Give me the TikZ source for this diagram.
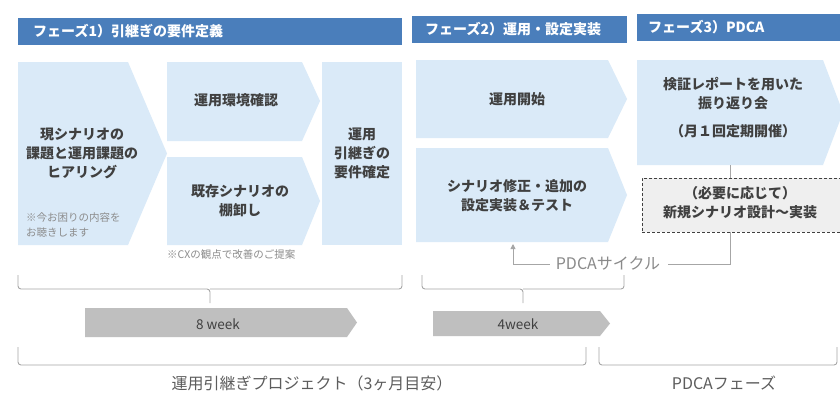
\documentclass[tikz,border=0pt]{standalone}
\usepackage{fontspec}
\setmainfont{Noto Sans CJK JP}
\usetikzlibrary{arrows.meta}
\definecolor{hdr}{HTML}{4A7EBB}
\definecolor{chev}{HTML}{DAEAF8}
\definecolor{txt}{HTML}{404040}
\definecolor{brk}{HTML}{A6A6A6}
\definecolor{garrow}{HTML}{BFBFBF}
\definecolor{note}{HTML}{8C8C8C}
\definecolor{cyc}{HTML}{8A8A8A}
\definecolor{dbg}{HTML}{EFEFEF}
\begin{document}
\begin{tikzpicture}[x=1pt,y=-1pt,
  hdrbar/.style={fill=hdr},
  hdrtext/.style={text=white,font=\fontsize{14}{16}\selectfont\bfseries,anchor=west,inner sep=0pt},
  chevfill/.style={fill=chev},
  boxtext/.style={text=txt,font=\fontsize{14}{19}\selectfont\bfseries,align=center,inner sep=0pt},
  notetext/.style={text=note,font=\fontsize{10.5}{15}\selectfont,align=left,inner sep=0pt,anchor=west},
  bracket/.style={draw=brk,line width=0.9pt,rounded corners=3pt},
  graybar/.style={fill=garrow},
  weektext/.style={text=txt,font=\fontsize{13.5}{15}\selectfont,inner sep=0pt},
  bottomtext/.style={text=txt!85,font=\fontsize{16}{18}\selectfont,inner sep=0pt},
  cycline/.style={draw=brk,line width=0.9pt},
  dbox/.style={draw=txt,fill=dbg,dashed,dash pattern=on 3pt off 2pt,line width=0.9pt}
]
\useasboundingbox (0,0) rectangle (840,392);
\fill[white] (0,0) rectangle (840,392);

% headers
\fill[hdrbar] (18,18) rectangle (402,45);
\fill[hdrbar] (412,16) rectangle (627,43);
\fill[hdrbar] (637,14) rectangle (845,41);
\node[hdrtext] (h1) at (33,31.5) {フェーズ1）引継ぎの要件定義};
\node[hdrtext] (h2) at (425,29.5) {フェーズ2）運用・設定実装};
\node[hdrtext] (h3) at (648,27.5) {フェーズ3）PDCA};

% phase 1 shapes
\fill[chevfill] (18,62) -- (128,62) -- (167,153.5) -- (128,245) -- (18,245) -- cycle;
\fill[chevfill] (167,62) -- (302,62) -- (320,101) -- (302,141) -- (167,141) -- cycle;
\fill[chevfill] (167,157) -- (302,157) -- (320,201) -- (302,245) -- (167,245) -- cycle;
\fill[chevfill] (322,62) rectangle (402,245);

\node[boxtext] (c1) at (82,153) {現シナリオの\\課題と運用課題の\\ヒアリング};
\node[notetext] (n1) at (26,224.5) {※今お困りの内容を\\お聴きします};
\node[boxtext] (c2) at (236,100) {運用環境確認};
\node[boxtext] (c3) at (240,201) {既存シナリオの\\棚卸し};
\node[boxtext] (c4) at (362,153) {運用\\引継ぎの\\要件確定};
\node[notetext] (n2) at (167,255) {※CXの観点で改善のご提案};

% phase 2 shapes
\fill[chevfill] (416,60) -- (608,60) -- (627,99) -- (608,138) -- (416,138) -- cycle;
\fill[chevfill] (416,148) -- (608,148) -- (627,195) -- (608,242) -- (416,242) -- cycle;
\node[boxtext] (c5) at (517,99) {運用開始};
\node[boxtext] (c6) at (517,196) {シナリオ修正・追加の\\設定実装＆テスト};

% phase 3 shapes
\fill[chevfill] (637,60) -- (823,60) -- (843,112.5) -- (823,165) -- (637,165) -- cycle;
\node[boxtext] (c7) at (733,94) {検証レポートを用いた\\振り返り会};
\node[boxtext] (c7b) at (733,131) {（月１回定期開催）};
\coordinate (c7bot) at (730,165);
\node[dbox,minimum width=208pt,minimum height=54pt,anchor=north west,inner sep=0pt] (db) at (642,178) {};
\node[boxtext] (dbt) at (740,203) {（必要に応じて）\\新規シナリオ設計～実装};

% PDCA cycle
\node[text=cyc,font=\fontsize{16}{18}\selectfont,inner sep=0pt] (cyc) at (608,263) {PDCAサイクル};
\coordinate (dbbot) at (730,232);
\coordinate (cycR) at (730,264);
\coordinate (cycL) at (513,264);
\coordinate (cycTip) at (513,244);
\draw[cycline] (c7bot) -- (730,178);
\draw[cycline] (dbbot) -- (cycR) -- ([xshift=8pt]cyc.east |- cycR);
\draw[cycline,-{Triangle[width=5pt,length=5pt]}] ([xshift=-6pt]cyc.west |- cycL) -- (cycL) -- (cycTip);

% braces
\draw[bracket] (18,275) -- (18,289) -- (210,289) -- (210,303);
\draw[bracket] (210,289) -- (402,289) -- (402,275);
\draw[bracket] (422,275) -- (422,289) -- (523,289) -- (523,303);
\draw[bracket] (523,289) -- (624,289) -- (624,275);

% week arrows
\fill[graybar] (85,308) -- (347,308) -- (357,322.5) -- (347,337) -- (85,337) -- cycle;
\fill[graybar] (433,311) -- (600,311) -- (610,323.5) -- (600,336) -- (433,336) -- cycle;
\node[weektext] (w8) at (218,324.5) {8 week};
\node[weektext] (w4) at (518,324) {4week};

% bottom brackets
\draw[bracket] (18,347) -- (18,365) -- (586,365) -- (586,347);
\draw[bracket] (599,347) -- (599,365) -- (837,365) -- (837,347);
\node[bottomtext] (b1) at (312,383) {運用引継ぎプロジェクト（3ヶ月目安）};
\node[bottomtext] (b2) at (724,383) {PDCAフェーズ};
\end{tikzpicture}
\end{document}
